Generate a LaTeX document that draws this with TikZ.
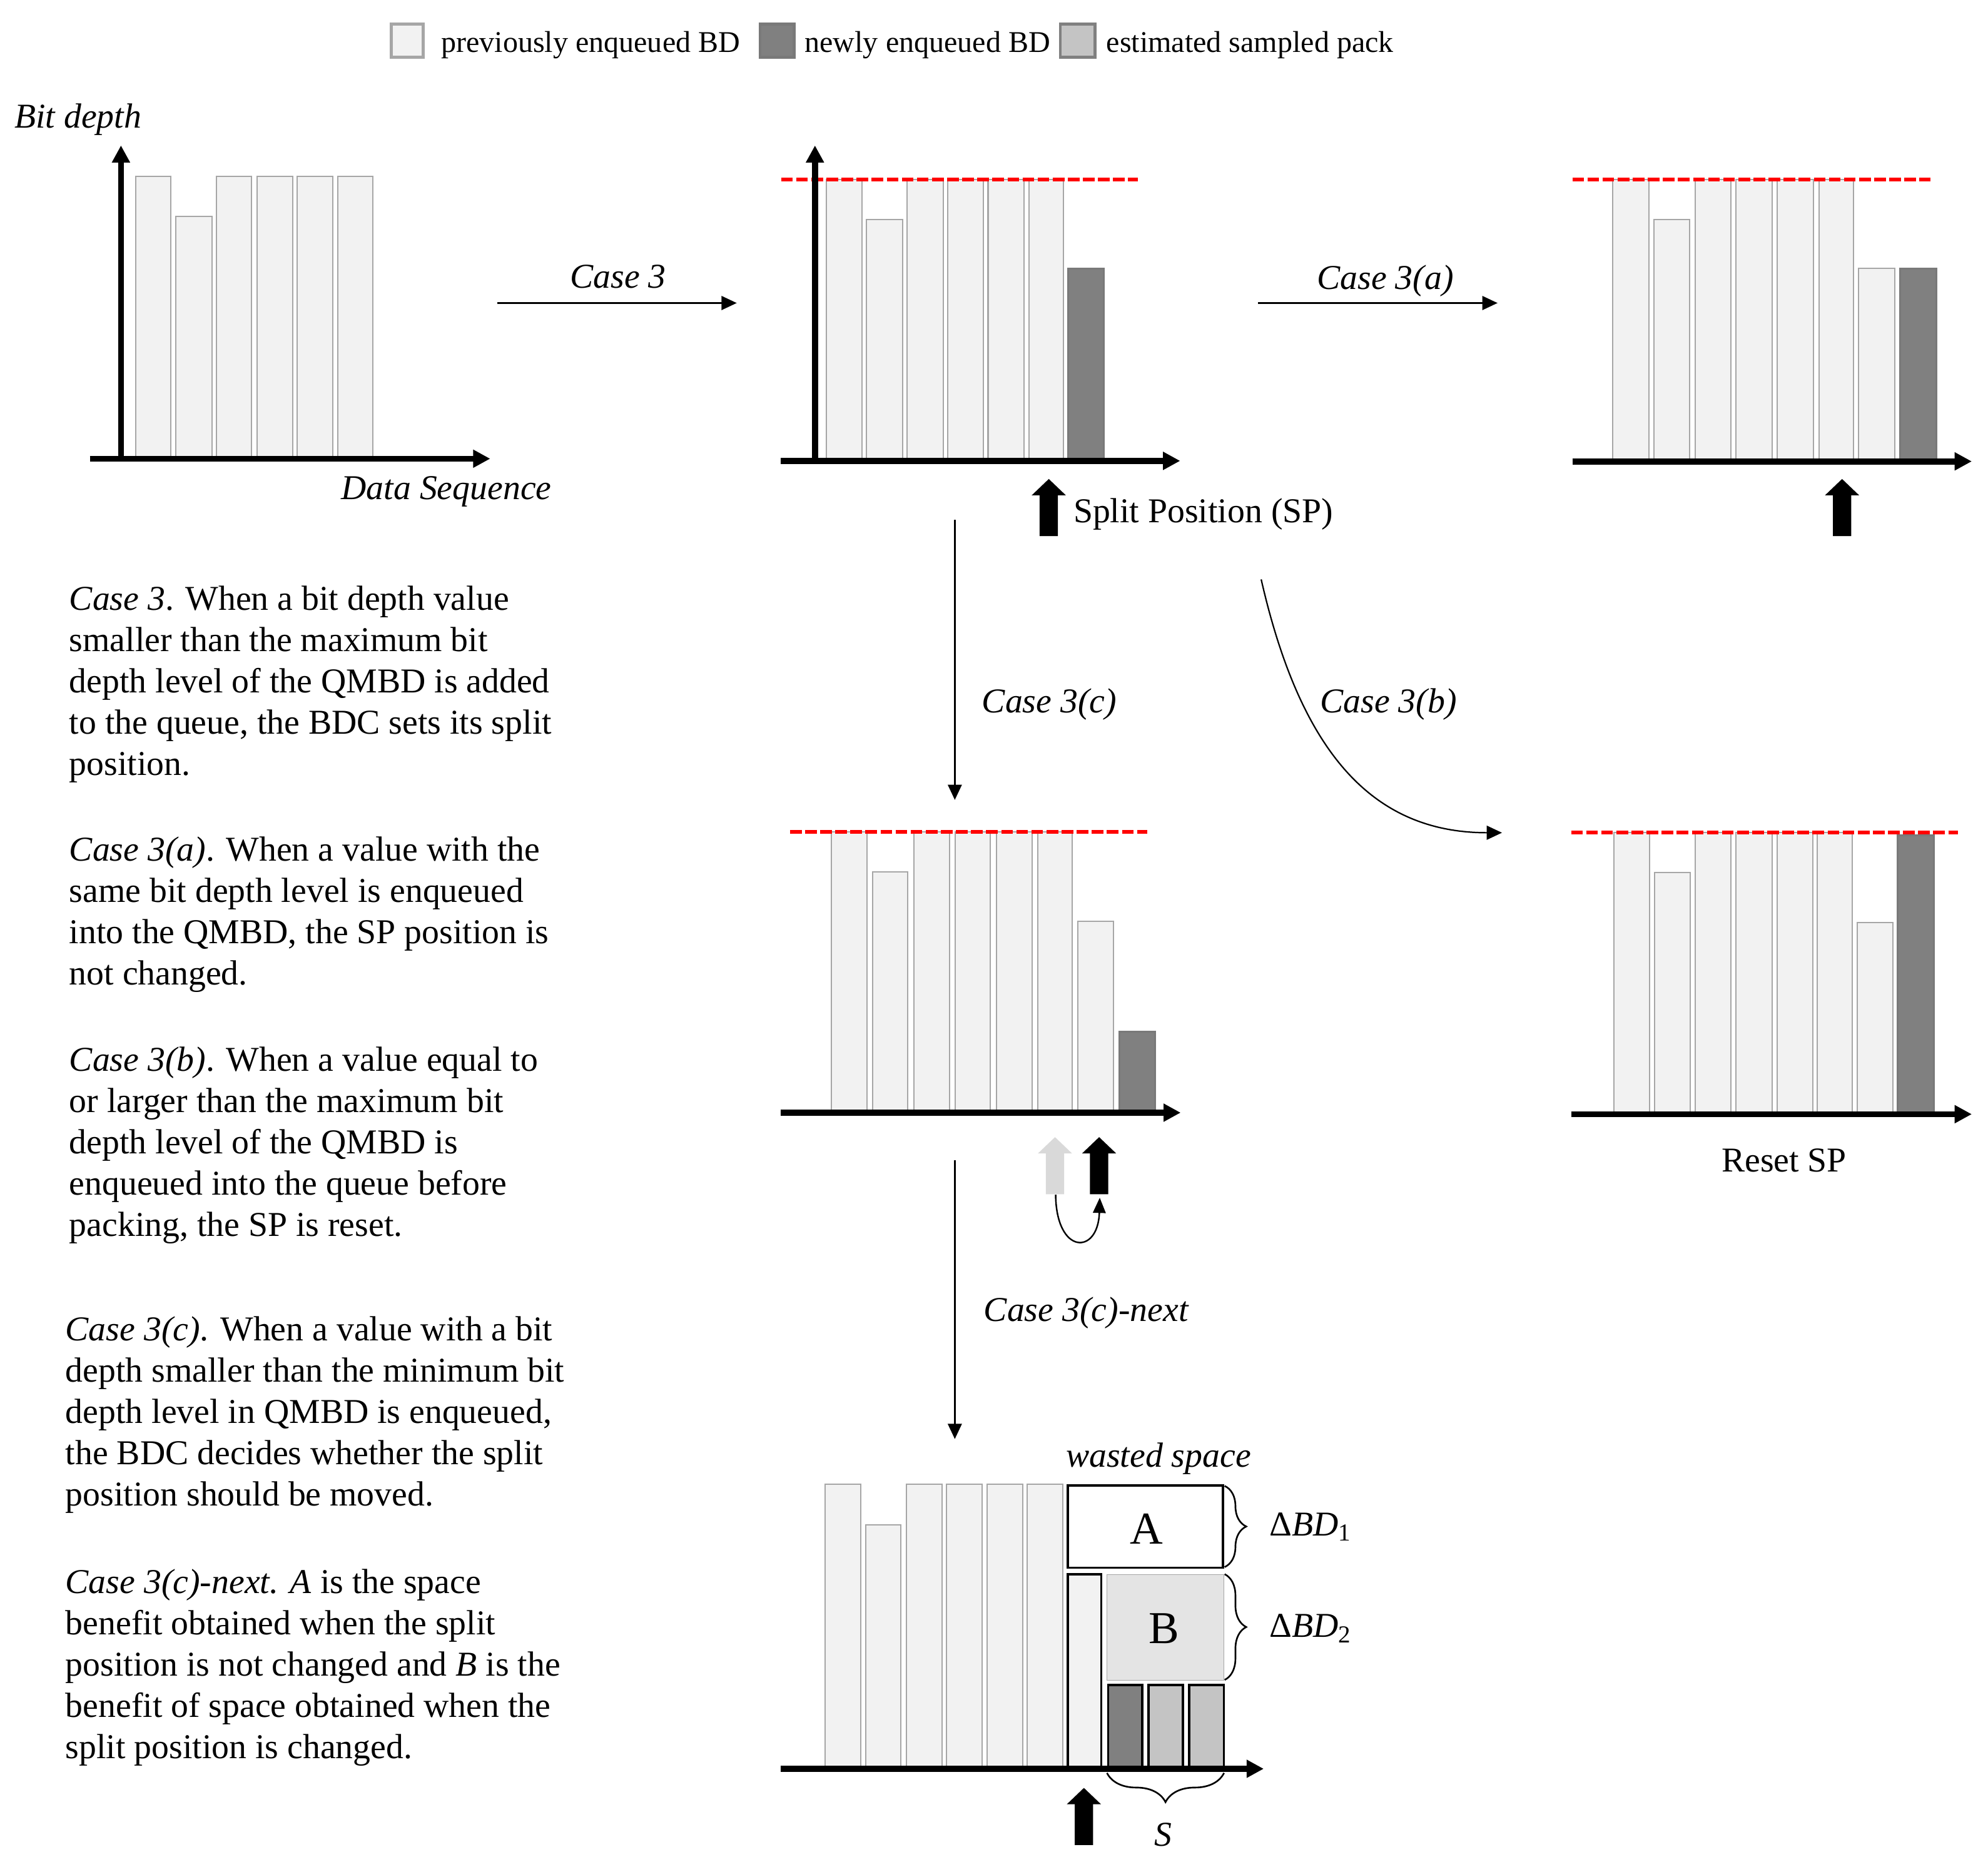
\documentclass[tikz,border=0pt]{standalone}
\usepackage{fontspec}
\setmainfont{Liberation Serif}
\usetikzlibrary{arrows.meta,decorations.pathreplacing}
\definecolor{prevfill}{HTML}{F2F2F2}
\definecolor{prevdraw}{HTML}{A6A6A6}
\definecolor{newfill}{HTML}{808080}
\definecolor{newdraw}{HTML}{797979}
\definecolor{packfill}{HTML}{C4C4C4}
\definecolor{bfill}{HTML}{E4E4E4}
\definecolor{oldsp}{HTML}{D9D9D9}
\begin{document}
\begin{tikzpicture}[x=1pt,y=-1pt,
  prevbar/.style={fill=prevfill, draw=prevdraw, line width=1pt},
  newbar/.style={fill=newfill, draw=newdraw, line width=1.5pt},
  packbar/.style={fill=packfill, draw=black, line width=1.8pt},
  axisline/.style={line width=4.8pt, -{Triangle[length=13.5pt,width=13.5pt]}},
  maxline/.style={red, line width=3.2pt, dash pattern=on 9.2pt off 2.7pt},
  flow/.style={line width=1.1pt, -{Triangle[length=12pt,width=11pt]}},
  lbl/.style={font=\fontsize{27.5}{33}\selectfont\itshape, inner sep=0},
  uplbl/.style={font=\fontsize{27.5}{33}\selectfont, inner sep=0},
  body/.style={font=\fontsize{27.5}{32.6}\selectfont, align=left, inner sep=0, anchor=base west},
  legtext/.style={font=\fontsize{23.7}{28}\selectfont, inner sep=0, anchor=base west},
  brc/.style={line width=1.3pt, decorate},
  sparrow/.pic={\fill (0,0) -- (13.5,12.9) -- (7.2,12.9) -- (7.2,45) -- (-7.2,45) -- (-7.2,12.9) -- (-13.5,12.9) -- cycle;}
]
\useasboundingbox (0,0) rectangle (1567.8,1472.1);

% ---------- legend ----------
\draw[fill=prevfill, draw=prevdraw, line width=2.4pt] (308.5,18.8) rectangle (333.8,45.2);
\node[legtext] (lg1) at (347.8,41.1) {previously enqueued BD};
\draw[fill=newfill, draw=newdraw, line width=2.4pt] (599.4,18.8) rectangle (626.1,45.2);
\node[legtext] (lg2) at (634.5,41.1) {newly enqueued BD};
\draw[fill=packfill, draw=newfill, line width=2.4pt] (836.2,18.8) rectangle (863.4,45.2);
\node[legtext] (lg3) at (872.4,41.1) {estimated sampled pack};

% ---------- chart 1 ----------
\foreach \a/\b/\t in {107/134.8/139.3, 138.8/167.1/170.7, 170.8/198.5/139.3, 202.8/230.8/139.3, 234.5/262.5/139.3, 266.5/294/139.3}
  \draw[prevbar] (\a,361.8) rectangle (\b,\t);
\draw[axisline] (95.4,364) -- (95.4,114.7);
\draw[axisline] (70.8,361.8) -- (386.6,361.8);
\node[lbl, anchor=base west] (bitdepth) at (11.3,100.7) {Bit depth};
\node[lbl, anchor=base west] (dataseq) at (269,393.8) {Data Sequence};

% ---------- chart 2 ----------
\foreach \a/\b/\t in {651.5/679.7/141.7, 683.3/712/173.1, 715.5/744/141.7, 747.3/775.6/141.7, 779.2/807.6/141.7, 811.6/838.7/141.7}
  \draw[prevbar] (\a,363.5) rectangle (\b,\t);
\draw[newbar] (842.2,363.5) rectangle (870.6,211.7);
\draw[maxline] (616,141.7) -- (897.5,141.7);
\draw[axisline] (642.7,366) -- (642.7,114.7);
\draw[axisline] (615.8,363.5) -- (930.7,363.5);
\pic[black] at (827.1,377.8) {sparrow};
\node[uplbl, anchor=base west] (splitpos) at (846.4,412.3) {Split Position (SP)};

% ---------- chart 3 ----------
\foreach \a/\b/\t in {1272/1300.5/141.7, 1304.3/1332.6/173.1, 1337/1365/141.7, 1368.8/1397.5/141.7, 1401.4/1430/141.7, 1434.5/1461.8/141.7, 1465.7/1494.4/211.7}
  \draw[prevbar] (\a,363.9) rectangle (\b,\t);
\draw[newbar] (1498.7,363.9) rectangle (1527.3,211.7);
\draw[maxline] (1240,141.7) -- (1522.4,141.7);
\draw[axisline] (1240,363.9) -- (1555,363.9);
\pic[black] at (1452.7,377.8) {sparrow};

% ---------- chart 4 (case 3(c)) ----------
\foreach \a/\b/\t in {655.6/683.8/656.2, 688/716/687.5, 720.8/749/656.2, 753.2/781/656.2, 785.8/814/656.2, 818.4/845.7/656.2, 849.9/878.3/726.6}
  \draw[prevbar] (\a,877.6) rectangle (\b,\t);
\draw[newbar] (882.7,877.6) rectangle (911,813.7);
\draw[maxline] (623,656.2) -- (904.7,656.2);
\draw[axisline] (615.7,877.6) -- (931.1,877.6);
\pic[oldsp] at (832,896.9) {sparrow};
\pic[black] at (866.8,896.9) {sparrow};
\coordinate (spold) at (832.5,942.3);
\coordinate (spnew) at (867.3,944.7);
\draw[line width=1.2pt, -{Triangle[length=12pt,width=10pt]}] (spold) .. controls (833,990) and (866,990) .. (spnew);

% ---------- chart 5 (case 3(b)) ----------
\foreach \a/\b/\t in {1272.6/1300.8/656.6, 1304.7/1332.9/688.1, 1337/1365/656.6, 1368.8/1397.5/656.6, 1401.3/1429.6/656.6, 1433.3/1460.9/656.6, 1464.9/1493/727.5}
  \draw[prevbar] (\a,878.8) rectangle (\b,\t);
\draw[newbar] (1496.6,878.8) rectangle (1525,658.7);
\draw[maxline] (1239,656.6) -- (1544,656.6);
\draw[axisline] (1239,878.8) -- (1555,878.8);
\node[uplbl, anchor=base] (resetsp) at (1407,924.4) {Reset SP};

% ---------- chart 6 (case 3(c)-next) ----------
\foreach \a/\b/\t in {650.7/678.9/1170.8, 682.9/710.6/1202.5, 714.6/742.8/1170.8, 746.5/774.7/1170.8, 778.7/806.7/1170.8, 810.2/838/1170.8}
  \draw[prevbar] (\a,1395.1) rectangle (\b,\t);
\draw[fill=prevfill, line width=1.8pt] (842.2,1395.1) rectangle (868.5,1241.7);
\draw[fill=white, line width=1.8pt] (842.2,1171.7) rectangle (964.4,1236.5);
\draw[fill=bfill, draw=gray!70, line width=0.6pt] (873,1241.9) rectangle (965.3,1325.2);
\draw[packbar, fill=newfill] (873.9,1328.9) rectangle (900.7,1395.1);
\draw[packbar] (905.6,1328.9) rectangle (932.8,1395.1);
\draw[packbar] (937.9,1328.9) rectangle (965.1,1395.1);
\draw[axisline] (615.7,1395.1) -- (996.6,1395.1);
\node[font=\fontsize{36}{40}\selectfont, inner sep=0, anchor=base] (boxA) at (904,1217.6) {A};
\node[font=\fontsize{36}{40}\selectfont, inner sep=0, anchor=base] (boxB) at (917.9,1296.1) {B};
\node[lbl, anchor=base west] (wasted) at (840.5,1157.3) {wasted space};
\draw[brc, decoration={brace, amplitude=17pt}] (965.8,1172) -- (965.8,1236);
\draw[brc, decoration={brace, amplitude=17pt}] (965.8,1241.6) -- (965.8,1325);
\draw[brc, decoration={brace, amplitude=23pt}] (965.3,1398.4) -- (873,1398.4);
\node[uplbl, anchor=base west] (dbd1) at (1000.9,1211.2) {Δ\textit{BD}\textsubscript{1}};
\node[uplbl, anchor=base west] (dbd2) at (1000.9,1291.4) {Δ\textit{BD}\textsubscript{2}};
\node[lbl, anchor=base] (slabel) at (917.5,1455.8) {S};
\pic[black] at (854.8,1410.2) {sparrow};

% ---------- transitions ----------
\coordinate (c3s) at (392,239);
\coordinate (c3e) at (581,239);
\draw[flow] (c3s) -- (c3e);
\node[lbl, anchor=base] (l3) at (487.5,227) {Case 3};
\coordinate (c3as) at (992,239);
\coordinate (c3ae) at (1181,239);
\draw[flow] (c3as) -- (c3ae);
\node[lbl, anchor=base] (l3a) at (1092.5,228) {Case 3(a)};
\coordinate (c3cs) at (753,410);
\coordinate (c3ce) at (753,630.9);
\draw[flow] (c3cs) -- (c3ce);
\node[lbl, anchor=base] (l3c) at (827.5,562) {Case 3(c)};
\coordinate (c3ns) at (753,915);
\coordinate (c3ne) at (753,1135);
\draw[flow] (c3ns) -- (c3ne);
\node[lbl, anchor=base] (l3n) at (856.5,1042) {Case 3(c)-next};
\coordinate (c3bs) at (994.6,457);
\coordinate (c3be) at (1184.5,656.8);
\draw[flow] (c3bs) .. controls (1025,590) and (1080,656.8) .. (c3be);
\node[lbl, anchor=base west] (l3b) at (1040.9,562.1) {Case 3(b)};

% ---------- text blocks (anchored at the baseline of the last line) ----------
\node[body] (t1) at (54.5,611.4) {\textit{Case 3}. When a bit depth value\\smaller than the maximum bit\\depth level of the QMBD is added\\to the queue, the BDC sets its split\\position.};
\node[body] (t2) at (54.5,776.9) {\textit{Case 3(a)}. When a value with the\\same bit depth level is enqueued\\into the QMBD, the SP position is\\not changed.};
\node[body] (t3) at (54.5,975.1) {\textit{Case 3(b)}. When a value equal to\\or larger than the maximum bit\\depth level of the QMBD is\\enqueued into the queue before\\packing, the SP is reset.};
\node[body] (t4) at (51.5,1187.9) {\textit{Case 3(c)}. When a value with a bit\\depth smaller than the minimum bit\\depth level in QMBD is enqueued,\\the BDC decides whether the split\\position should be moved.};
\node[body] (t5) at (51.5,1386.9) {\textit{Case 3(c)-next. A} is the space\\benefit obtained when the split\\position is not changed and \textit{B} is the\\benefit of space obtained when the\\split position is changed.};
\end{tikzpicture}
\end{document}
